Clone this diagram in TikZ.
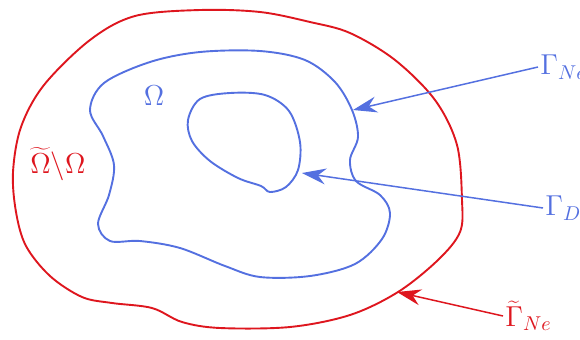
\documentclass[tikz,border=0pt]{standalone}
\usetikzlibrary{arrows.meta}
\definecolor{cred}{RGB}{222,22,30}
\definecolor{cblue}{RGB}{84,112,224}
\begin{document}
\begin{tikzpicture}[x=0.5pt,y=-0.5pt,
  bnd/.style={line width=0.95pt},
  arr/.style={line width=0.75pt,-{Stealth[length=12pt,width=8pt,inset=4pt]}},
  lbl/.style={inner sep=1pt,font=\fontsize{14}{16}\selectfont}]
\useasboundingbox (0,0) rectangle (580,339);
% outer red boundary
\draw[bnd,cred] plot[smooth cycle,tension=0.55] coordinates {
 (13,172) (21,127) (44,85) (90,40) (135,16) (200,10) (260,12) (310,22) (350,33)
 (395,60) (435,100) (457,145) (462,200) (460,232) (438,260) (398,292) (350,315)
 (290,327) (220,328) (182,322) (152,308) (112,303) (82,297) (50,276) (26,246) (16,212)};
% middle blue boundary
\draw[bnd,cblue] plot[smooth cycle,tension=0.55] coordinates {
 (90,110) (104,83) (150,62) (200,52) (260,51) (305,60) (335,82) (352,110) (358,137)
 (350,160) (356,181) (380,195) (390,213) (382,239) (355,264) (310,276) (260,277)
 (225,266) (180,248) (140,241) (110,241) (98,224) (109,195) (114,165) (103,136)};
% inner blue boundary
\draw[bnd,cblue] plot[smooth cycle,tension=0.55] coordinates {
 (188,120) (200,99) (230,93) (265,95) (289,111) (300,142) (298,170) (286,187)
 (270,192) (261,186) (238,178) (210,161) (192,141)};
% labels
\node[lbl,text=cblue] (om) at (154,96) {$\Omega$};
\node[lbl,text=cred] (omt) at (58,164) {$\widetilde{\Omega}\backslash\Omega$};
\node[lbl,text=cblue,anchor=west] (gne) at (538,67) {$\Gamma_{Ne}$};
\node[lbl,text=cblue,anchor=west] (gd) at (543,208) {$\Gamma_{D}$};
\node[lbl,text=cred,anchor=west] (gtne) at (503,316) {$\widetilde{\Gamma}_{Ne}$};
% arrow targets
\coordinate (tne) at (353,110);
\coordinate (td) at (302,173);
\coordinate (ttne) at (397,292);
\draw[arr,cblue] (gne.west) -- (tne);
\draw[arr,cblue] (gd.west) -- (td);
\draw[arr,cred] (gtne.west) -- (ttne);
\end{tikzpicture}
\end{document}
